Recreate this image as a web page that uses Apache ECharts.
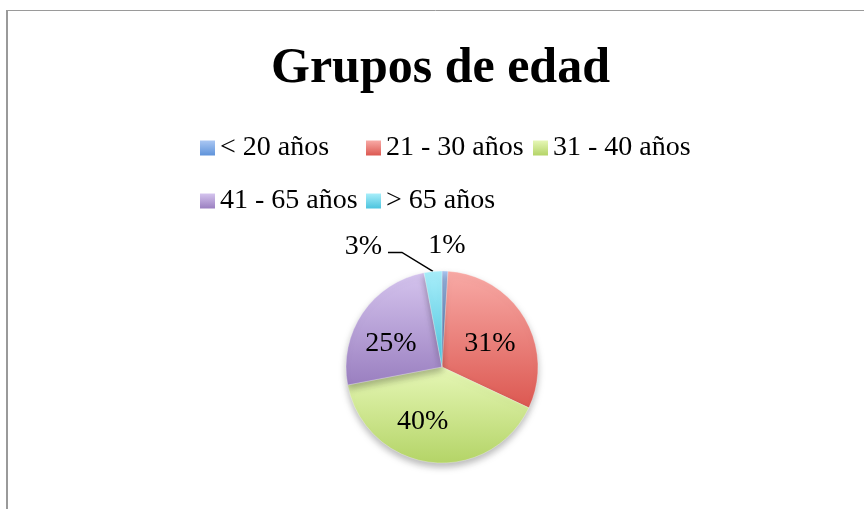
<!DOCTYPE html>
<html>
<head>
<meta charset="utf-8">
<script src="https://cdn.jsdelivr.net/npm/echarts@6/dist/echarts.min.js"></script>
<style>html,body{margin:0;padding:0;background:#fff;}#c{width:864px;height:509px;}</style>
</head>
<body>
<div id="c"></div>
<script>
var titleText = 'Grupos de edad';
var categories = ['< 20 años', '21 - 30 años', '31 - 40 años', '41 - 65 años', '> 65 años'];
var values = [1, 31, 40, 25, 3];

var topColors = ['#aac7f3', '#f8aaa6', '#e6f7b6', '#d5c4ee', '#a8eefa'];
var bottomColors = ['#5f93da', '#dc5851', '#b4d467', '#9a7fc0', '#4cc4de'];

var FONT = 'Liberation Serif';
var CX = 442, CY = 367, R = 96;

function grad(i) {
  return new echarts.graphic.LinearGradient(0, 0, 0, 1, [
    { offset: 0, color: topColors[i] },
    { offset: 1, color: bottomColors[i] }
  ]);
}

var total = values.reduce(function (a, b) { return a + b; }, 0);
function anchor(i) {
  var cum = 0;
  for (var k = 0; k < i; k++) cum += values[k];
  var ang = (90 - (cum + values[i] / 2) / total * 360) * Math.PI / 180;
  return [CX + R * Math.cos(ang), CY - R * Math.sin(ang)];
}

var data = categories.map(function (name, i) {
  var item = { name: name, value: values[i], itemStyle: { color: grad(i) } };
  if (i === 0) {
    item.label = { position: 'outside' };
    item.labelLine = { show: false };
  } else if (i === 4) {
    item.label = { position: 'outside' };
    item.labelLine = { show: true, lineStyle: { color: '#000', width: 1.5 } };
  }
  return item;
});

var legendCols = [200, 366, 533, 200, 366];
var legendRows = [134, 134, 134, 187, 187];
var legends = categories.map(function (name, i) {
  return {
    data: [name],
    left: legendCols[i],
    top: legendRows[i],
    orient: 'horizontal',
    icon: 'rect',
    itemWidth: 15,
    itemHeight: 15,
    itemGap: 0,
    selectedMode: false,
    padding: 0,
    itemStyle: { borderWidth: 0, shadowBlur: 0 },
    textStyle: { fontFamily: FONT, fontSize: 28, color: '#000', padding: [0, 0, 0, 0] }
  };
});

var inOffsets = { 1: [4, 3], 2: [-13, 4], 3: [-9, 5] };

var chart = echarts.init(document.getElementById('c'));
chart.setOption({
  backgroundColor: '#fff',
  animation: false,
  title: {
    text: titleText,
    left: 271,
    top: 44,
    padding: 0,
    textStyle: { fontFamily: FONT, fontSize: 50, fontWeight: 'bold', color: '#000' }
  },
  legend: legends,
  graphic: [
    { type: 'line', shape: { x1: 7, y1: 10, x2: 7, y2: 520 }, style: { stroke: '#9a9a9a', lineWidth: 2 } },
    { type: 'line', shape: { x1: 6, y1: 10.5, x2: 870, y2: 10.5 }, style: { stroke: '#9a9a9a', lineWidth: 1 } }
  ],
  series: [{
    type: 'pie',
    center: [CX, CY],
    radius: [0, R],
    startAngle: 90,
    clockwise: true,
    avoidLabelOverlap: false,
    data: data,
    itemStyle: {
      borderColor: 'rgba(255,255,255,0.6)',
      borderWidth: 0.5,
      shadowBlur: 7,
      shadowOffsetY: 4,
      shadowColor: 'rgba(0,0,0,0.28)'
    },
    label: {
      show: true,
      position: 'inside',
      formatter: '{c}%',
      fontFamily: FONT,
      fontSize: 28,
      color: '#000'
    },
    labelLayout: function (p) {
      var i = p.dataIndex;
      var a = anchor(i);
      if (i === 0) {
        return { x: a[0] + 2, y: a[1] - 25, align: 'center', verticalAlign: 'middle' };
      }
      if (i === 4) {
        var p1 = [a[0] - 31, a[1] - 19];
        var p2 = [p1[0] - 14, p1[1]];
        return {
          x: p2[0] - 6, y: p2[1] - 6, align: 'right', verticalAlign: 'middle',
          labelLinePoints: [a, p1, p2]
        };
      }
      var o = inOffsets[i];
      return o ? { dx: o[0], dy: o[1] } : {};
    }
  }]
});
</script>
</body>
</html>
